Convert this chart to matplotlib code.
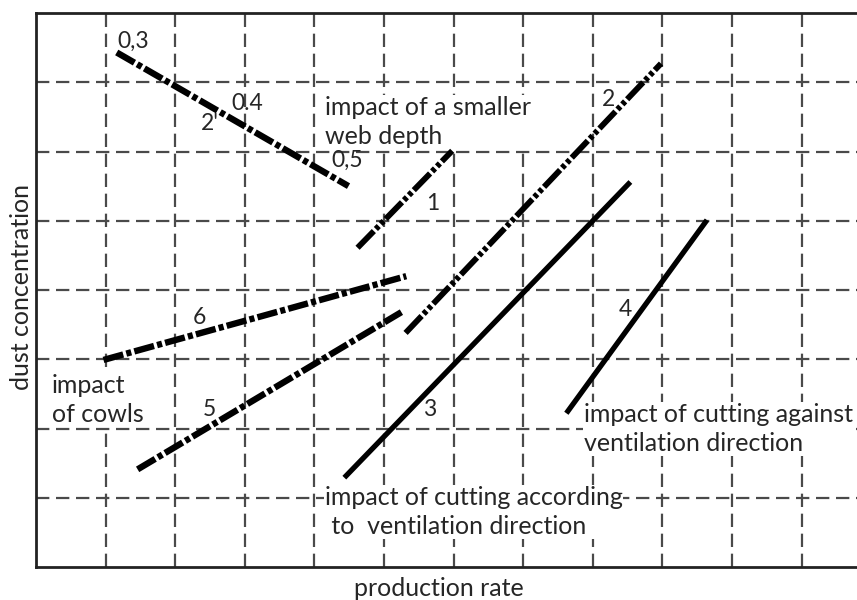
import matplotlib
matplotlib.use("Agg")
import matplotlib.pyplot as plt

plt.rcParams["font.family"] = ["Lato", "DejaVu Sans"]

# line end points (grid units)
line_2p_x = [1.16, 4.49]
line_2p_y = [7.43, 5.50]
line_1_x = [4.62, 5.98]
line_1_y = [4.61, 6.01]
line_2_x = [5.31, 8.98]
line_2_y = [3.38, 7.27]
line_3_x = [4.43, 8.54]
line_3_y = [1.29, 5.56]
line_4_x = [7.62, 9.64]
line_4_y = [2.22, 5.01]
line_5_x = [1.46, 5.25]
line_5_y = [1.41, 3.68]
line_6_x = [0.97, 5.32]
line_6_y = [2.99, 4.20]

grid_x = list(range(1, 12))
grid_y = list(range(1, 8))

fig = plt.figure(figsize=(8.57, 6.0), dpi=100)
W, H = 857, 600
ax = fig.add_axes([36 / W, 1 - 567 / H, (857 - 36) / W + 0.01, (567 - 13) / H])
ax.set_xlim(0, (857 - 36) / 69.7 + 0.14)
ax.set_ylim(0, 8)

# dashed grid
for gx in grid_x:
    ax.axvline(gx, color="#4a4a4a", lw=1.6, ls=(0, (6, 3)), zorder=1)
for gy in grid_y:
    ax.axhline(gy, color="#4a4a4a", lw=1.6, ls=(0, (6, 3)), zorder=1)

dashdot = (0, (3.2, 0.5, 0.8, 0.5))
dashdotdot = (0, (4.0, 0.5, 0.7, 0.5, 0.7, 0.5))
ax.plot(line_2p_x, line_2p_y, color="black", lw=4.6, ls=dashdot,
        dash_capstyle="butt", zorder=3)
ax.plot(line_1_x, line_1_y, color="black", lw=4.2, ls=dashdotdot,
        dash_capstyle="butt", zorder=3)
ax.plot(line_2_x, line_2_y, color="black", lw=4.2, ls=dashdotdot,
        dash_capstyle="butt", zorder=3)
ax.plot(line_3_x, line_3_y, color="black", lw=3.8, solid_capstyle="butt", zorder=3)
ax.plot(line_4_x, line_4_y, color="black", lw=3.8, solid_capstyle="butt", zorder=3)
ax.plot(line_5_x, line_5_y, color="black", lw=4.6, ls=dashdot,
        dash_capstyle="butt", zorder=3)
ax.plot(line_6_x, line_6_y, color="black", lw=4.6, ls=dashdot,
        dash_capstyle="butt", zorder=3)


def px(x, y):
    return (x - 36) / 69.7, (567 - y) / 69.25


fs = 16.5
txt = dict(fontsize=fs, color="#262626", zorder=4)
ax.text(*px(133, 41), "0,3", ha="center", va="center", **txt)
ax.text(*px(248, 103), "0.4", ha="center", va="center", **txt)
ax.text(*px(210, 123), "2'", ha="center", va="center", **txt)
ax.text(*px(348, 160), "0,5", ha="center", va="center", **txt)
ax.text(*px(433, 203), "1", ha="center", va="center", **txt)
ax.text(*px(609, 99), "2", ha="center", va="center", **txt)
ax.text(*px(430, 410), "3", ha="center", va="center", **txt)
ax.text(*px(626, 310), "4", ha="center", va="center", **txt)
ax.text(*px(210, 410), "5", ha="center", va="center", **txt)
ax.text(*px(200, 318), "6", ha="center", va="center", **txt)

box = dict(facecolor="white", edgecolor="none", pad=0.5)
big = dict(fontsize=18, color="#262626", zorder=2, ha="left", va="center",
           linespacing=1.35, bbox=box)
ax.text(*px(325, 122), "impact of a smaller\nweb depth", **big)
ax.text(*px(52, 400), "impact\nof cowls", **big)
ax.text(*px(325, 512), "impact of cutting according\n to  ventilation direction", **big)
ax.text(*px(585, 429), "impact of cutting against\nventilation direction", **big)

ax.set_xticks([])
ax.set_yticks([])
for s in ["left", "top", "bottom"]:
    ax.spines[s].set_linewidth(2.0)
    ax.spines[s].set_color("#222222")
ax.spines["right"].set_visible(False)

fig.text(22 / W, 1 - 287 / H, "dust concentration", rotation=90, fontsize=18,
         ha="center", va="center", color="#262626")
fig.text(439 / W, 1 - 588 / H, "production rate", fontsize=18,
         ha="center", va="center", color="#262626")

fig.savefig("out.png", dpi=100)
